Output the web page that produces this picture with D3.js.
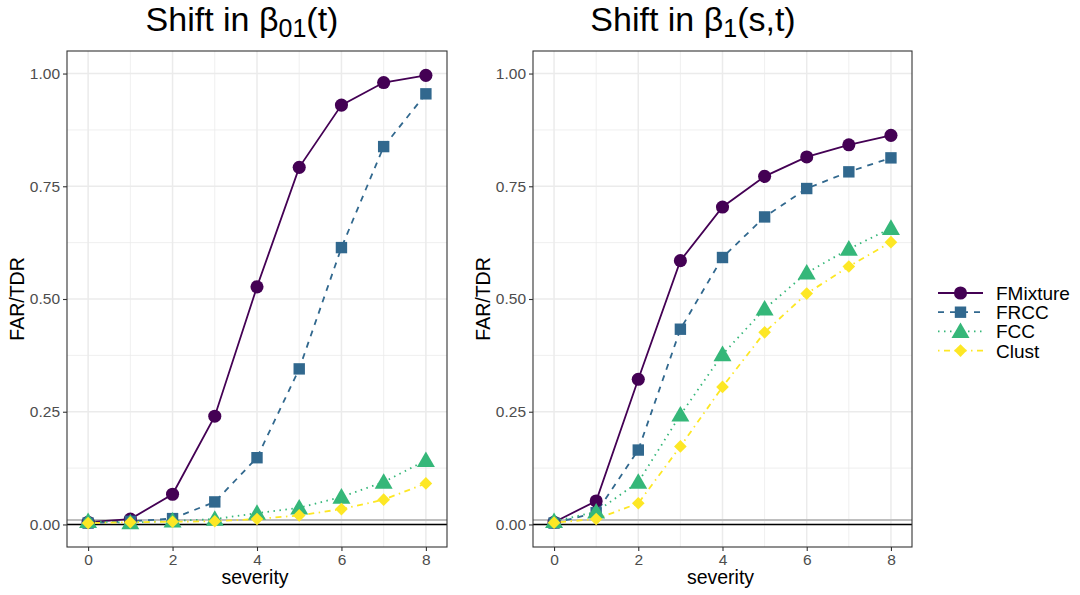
<!DOCTYPE html>
<html>
<head>
<meta charset="utf-8">
<script src="https://cdn.jsdelivr.net/npm/d3@7"></script>
<style>
  body { margin: 0; background: #fff; }
  svg { font-family: "Liberation Sans", Arial, sans-serif; }
</style>
</head>
<body>
<div id="chart"></div>
<script>
const severity = [0, 1, 2, 3, 4, 5, 6, 7, 8];
const methods = ["FMixture", "FRCC", "FCC", "Clust"];
const yTicks = [0, 0.25, 0.5, 0.75, 1];
const xTicks = [0, 2, 4, 6, 8];
const refLevel = 0.01;

// Shift in beta_01(t)
const leftFMixture = [0.005, 0.012, 0.067, 0.240, 0.527, 0.792, 0.930, 0.980, 0.996];
const leftFRCC = [0.003, 0.007, 0.013, 0.050, 0.148, 0.345, 0.614, 0.838, 0.955];
const leftFCC = [0.007, 0.004, 0.008, 0.012, 0.025, 0.037, 0.061, 0.094, 0.142];
const leftClust = [0.003, 0.005, 0.006, 0.007, 0.012, 0.020, 0.034, 0.055, 0.091];

// Shift in beta_1(s,t)
const rightFMixture = [0.005, 0.052, 0.322, 0.585, 0.704, 0.772, 0.815, 0.842, 0.863];
const rightFRCC = [0.003, 0.026, 0.165, 0.433, 0.592, 0.682, 0.745, 0.782, 0.813];
const rightFCC = [0.007, 0.028, 0.094, 0.243, 0.377, 0.478, 0.558, 0.611, 0.657];
const rightClust = [0.004, 0.012, 0.047, 0.173, 0.305, 0.426, 0.512, 0.572, 0.626];

const colors = ["#440154", "#31688E", "#35B779", "#FDE725"];
const dashes = [null, "6,6", "1.5,4.5", "1.5,4.5,6,4.5"];
const shapes = [d3.symbolCircle, d3.symbolSquare, d3.symbolTriangle, d3.symbolSquare];
const shapeSizes = [135, 130, 140, 80];
const shapeRot = [0, 0, 0, 45];

const svg = d3.select("#chart").append("svg")
  .attr("width", 1080).attr("height", 595);

const panelTop = 51, panelBottom = 547;

const y = d3.scaleLinear().domain([-0.05, 1.05]).range([panelBottom, panelTop]);

function marker(k) {
  return d3.symbol().type(shapes[k]).size(shapeSizes[k]);
}

function drawPanel(left, right, seriesValues, titleX, titleMain, titleSub, titleTail) {
  const x = d3.scaleLinear().domain([-0.5, 8.5]).range([left, right]);
  const g = svg.append("g");

  // minor grid
  g.append("g").selectAll("line")
    .data([0.125, 0.375, 0.625, 0.875]).join("line")
    .attr("x1", left).attr("x2", right)
    .attr("y1", d => y(d)).attr("y2", d => y(d))
    .attr("stroke", "#ebebeb").attr("stroke-width", 0.8);
  g.append("g").selectAll("line")
    .data([1, 3, 5, 7]).join("line")
    .attr("y1", panelTop).attr("y2", panelBottom)
    .attr("x1", d => x(d)).attr("x2", d => x(d))
    .attr("stroke", "#ebebeb").attr("stroke-width", 0.8);

  // major grid
  g.append("g").selectAll("line")
    .data(yTicks).join("line")
    .attr("x1", left).attr("x2", right)
    .attr("y1", d => y(d)).attr("y2", d => y(d))
    .attr("stroke", "#ebebeb").attr("stroke-width", 1.5);
  g.append("g").selectAll("line")
    .data(xTicks).join("line")
    .attr("y1", panelTop).attr("y2", panelBottom)
    .attr("x1", d => x(d)).attr("x2", d => x(d))
    .attr("stroke", "#ebebeb").attr("stroke-width", 1.5);

  // reference lines
  g.append("line")
    .attr("x1", left).attr("x2", right)
    .attr("y1", y(refLevel)).attr("y2", y(refLevel))
    .attr("stroke", "#bebebe").attr("stroke-width", 2);
  g.append("line")
    .attr("x1", left).attr("x2", right)
    .attr("y1", y(0)).attr("y2", y(0))
    .attr("stroke", "#000").attr("stroke-width", 1.6);

  const line = d3.line().x((d, i) => x(severity[i])).y(d => y(d));

  seriesValues.forEach((vals, k) => {
    g.append("path")
      .datum(vals)
      .attr("d", line)
      .attr("fill", "none")
      .attr("stroke", colors[k])
      .attr("stroke-width", 1.8)
      .attr("stroke-dasharray", dashes[k]);
  });
  seriesValues.forEach((vals, k) => {
    g.append("g").selectAll("path")
      .data(vals).join("path")
      .attr("transform", (d, i) => `translate(${x(severity[i])},${y(d) + (k === 2 ? 1.5 : 0)}) rotate(${shapeRot[k]})`)
      .attr("d", marker(k))
      .attr("fill", colors[k]);
  });

  // panel border
  g.append("rect")
    .attr("x", left).attr("y", panelTop)
    .attr("width", right - left).attr("height", panelBottom - panelTop)
    .attr("fill", "none").attr("stroke", "#333").attr("stroke-width", 1.1);

  // axes
  const xAxis = d3.axisBottom(x).tickValues(xTicks).tickSize(4).tickPadding(3).tickFormat(d3.format("d"));
  const yAxis = d3.axisLeft(y).tickValues(yTicks).tickSize(4).tickPadding(3).tickFormat(d3.format(".2f"));

  const gx = g.append("g").attr("transform", `translate(0,${panelBottom})`).call(xAxis);
  const gy = g.append("g").attr("transform", `translate(${left},0)`).call(yAxis);
  [gx, gy].forEach(a => {
    a.attr("font-size", null).attr("font-family", null);
    a.select(".domain").remove();
    a.selectAll(".tick line").attr("stroke", "#333").attr("stroke-width", 1.1);
    a.selectAll(".tick text").attr("fill", "#4d4d4d").style("font-size", "15.5px");
  });

  g.append("text")
    .attr("x", (left + right) / 2 - 2).attr("y", 584)
    .attr("text-anchor", "middle")
    .style("font-size", "19.5px")
    .text("severity");

  g.append("text")
    .attr("transform", `translate(${left - 43},${(panelTop + panelBottom) / 2}) rotate(-90)`)
    .attr("text-anchor", "middle")
    .style("font-size", "19.5px")
    .text("FAR/TDR");

  const t = g.append("text")
    .attr("x", titleX).attr("y", 31)
    .attr("text-anchor", "middle")
    .style("font-size", "34px");
  t.append("tspan").text(titleMain);
  t.append("tspan").attr("dy", 6).style("font-size", "25px").text(titleSub);
  t.append("tspan").attr("dy", -6).text(titleTail);
}

drawPanel(67, 447, [leftFMixture, leftFRCC, leftFCC, leftClust], 242, "Shift in \u03b2", "01", "(t)");
drawPanel(533, 912, [rightFMixture, rightFRCC, rightFCC, rightClust], 693, "Shift in \u03b2", "1", "(s,t)");

// legend
const legend = svg.append("g").attr("transform", "translate(938,293)");
methods.forEach((m, k) => {
  const row = legend.append("g").attr("transform", `translate(0,${k * 19.2})`);
  row.append("line")
    .attr("x1", 0).attr("x2", 45).attr("y1", 0).attr("y2", 0)
    .attr("stroke", colors[k]).attr("stroke-width", 1.8)
    .attr("stroke-dasharray", dashes[k]);
  row.append("path")
    .attr("transform", `translate(22.5,${k === 2 ? 1.5 : 0}) rotate(${shapeRot[k]})`)
    .attr("d", marker(k))
    .attr("fill", colors[k]);
  row.append("text")
    .attr("x", 58).attr("y", 7)
    .style("font-size", "19px")
    .text(m);
});
</script>
</body>
</html>
